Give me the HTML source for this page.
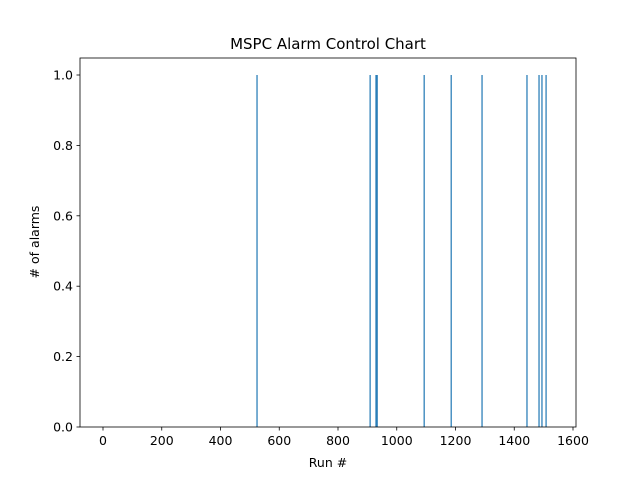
<!DOCTYPE html>
<html><head><meta charset="utf-8"><style>body{margin:0;background:#fff}svg{display:block;font-family:"DejaVu Sans","Liberation Sans",sans-serif}</style></head>
<body>
<svg id="c" width="640" height="480"></svg>
<script>
const runs=[524,909,929,933,1093,1185,1290,1443,1484,1494,1508];
const alarms=[1,1,1,1,1,1,1,1,1,1,1];
const xTicks=[0,200,400,600,800,1000,1200,1400,1600];
const yTicks=[0,0.2,0.4,0.6,0.8,1.0];
const L=80,R=576,T=58,B=427;
const xs=v=>103+v*0.29375;
const ys=v=>427-v*352;
const s=document.getElementById('c');const NS='http://www.w3.org/2000/svg';
function mk(t,a,txt){const e=document.createElementNS(NS,t);for(const k in a)e.setAttribute(k,a[k]);if(txt!==undefined)e.textContent=txt;s.appendChild(e);return e;}
runs.forEach((r,i)=>{const b=mk('rect',{x:xs(r)-0.5,y:ys(alarms[i]),width:1.2,height:ys(0)-ys(alarms[i]),fill:'#1f77b4'});

});
const f=mk('rect',{x:L,y:T,width:R-L,height:B-T,fill:'none',stroke:'#000','stroke-width':0.8});


xTicks.forEach(v=>{const x=xs(v);mk('line',{x1:x,x2:x,y1:B,y2:B+3.5,stroke:'#000','stroke-width':0.8});
const t=mk('text',{x:x,y:B+18,'text-anchor':'middle','font-size':12.5},String(v));

});
yTicks.forEach(v=>{const y=ys(v);mk('line',{x1:L,x2:L-3.5,y1:y,y2:y,stroke:'#000','stroke-width':0.8});
const t=mk('text',{x:L-7,y:y+4.5,'text-anchor':'end','font-size':12.5},v.toFixed(1));

});
const xt=mk('text',{x:328,y:467,'text-anchor':'middle','font-size':12.5},'Run #');


const yt=mk('text',{x:39,y:242,'text-anchor':'middle','font-size':12.5,transform:'rotate(-90 39 242)'},'# of alarms');


const ti=mk('text',{x:328,y:49,'text-anchor':'middle','font-size':15},'MSPC Alarm Control Chart');


</script>
</body></html>
